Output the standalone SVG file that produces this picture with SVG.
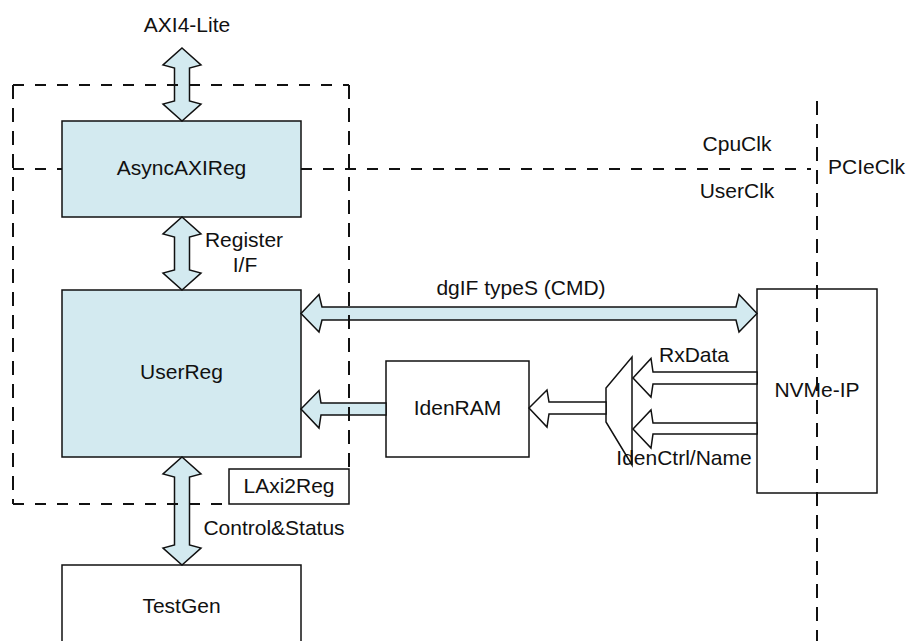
<svg xmlns="http://www.w3.org/2000/svg" width="907" height="641" viewBox="0 0 907 641">
<style>
text{font-family:"Liberation Sans",Arial,sans-serif;font-size:21px;fill:#111;text-anchor:middle}
.box{fill:#fff;stroke:#111;stroke-width:1.5}
.blue{fill:#d3eaf0;stroke:#111;stroke-width:1.5}
.arr{fill:#d3eaf0;stroke:#111;stroke-width:1.5;stroke-linejoin:miter}
.warr{fill:#fff;stroke:#111;stroke-width:1.5}
.dh{fill:none;stroke:#111;stroke-width:2;stroke-dasharray:11 11}
.dv{fill:none;stroke:#111;stroke-width:2;stroke-dasharray:14 9}
</style>
<rect width="907" height="641" fill="#fff"/>
<g id="AsyncAXIReg"><rect class="blue" x="62" y="121" width="239" height="96"/><text x="181.5" y="175">AsyncAXIReg</text></g>
<g id="UserReg"><rect class="blue" x="62" y="290" width="239" height="167"/><text x="181.5" y="379">UserReg</text></g>
<g id="TestGen"><rect class="box" x="62" y="565" width="239" height="100"/><text x="181.5" y="613">TestGen</text></g>
<g id="IdenRAM"><rect class="box" x="386" y="361" width="143" height="96"/><text x="457.5" y="415">IdenRAM</text></g>
<g id="NVMe-IP"><rect class="box" x="757" y="289" width="120" height="204"/><text x="817" y="397">NVMe-IP</text></g>
<g id="Mux"><polygon class="box" points="632,357 632,465 606,422 606,388"/></g>
<g id="connectors">
<path class="arr" d="M182,48 L201,65 L189.5,68 L189.5,101 L201,104 L182,121 L163,104 L174.5,101 L174.5,68 L163,65 Z"/>
<path class="arr" d="M182,217 L201,234 L189.5,237 L189.5,270 L201,273 L182,290 L163,273 L174.5,270 L174.5,237 L163,234 Z"/>
<path class="arr" d="M182,457 L201,474 L189.5,477 L189.5,545 L201,548 L182,565 L163,548 L174.5,545 L174.5,477 L163,474 Z"/>
<path class="arr" d="M301,313.5 L319,294.5 L322,307 L736,307 L739,294.5 L757,313.5 L739,332 L736,320 L322,320 L319,332 Z"/>
<path class="arr" d="M301,409 L319,390.5 L321,403 L386,403 L386,415 L321,415 L319,428 Z"/>
<path class="warr" d="M529,408 L547,390 L549,402 L606,402 L606,414 L549,414 L547,427 Z"/>
<path class="warr" d="M633,378 L651,358.5 L653,372 L757,372 L757,384 L653,384 L651,397 Z"/>
<path class="warr" d="M633,429 L651,410 L653,423 L757,423 L757,434 L653,434 L651,448 Z"/>
</g>
<g id="LAxi2Reg">
<path class="dh" d="M13,85 H349"/>
<path class="dv" d="M13,85 V504"/>
<path class="dv" d="M349,85 V469"/>
<path class="dh" d="M13,504 H229"/>
<rect class="box" x="229" y="469" width="120" height="35"/>
<text x="289" y="493">LAxi2Reg</text>
</g>
<g id="clock-domains">
<path class="dh" d="M13,169 H62"/>
<path class="dh" d="M301,169 H811"/>
<path class="dv" d="M817,101 V641"/>
</g>
<g id="labels">
<text x="187" y="32">AXI4-Lite</text>
<text x="244" y="247">Register</text>
<text x="245" y="272">I/F</text>
<text x="274" y="535">Control&amp;Status</text>
<text x="521" y="295">dgIF typeS (CMD)</text>
<text x="694" y="362">RxData</text>
<text x="684" y="465">IdenCtrl/Name</text>
<text x="737" y="151">CpuClk</text>
<text x="737" y="198">UserClk</text>
<text x="828" y="174" style="text-anchor:start">PCIeClk</text>
</g>
</svg>
